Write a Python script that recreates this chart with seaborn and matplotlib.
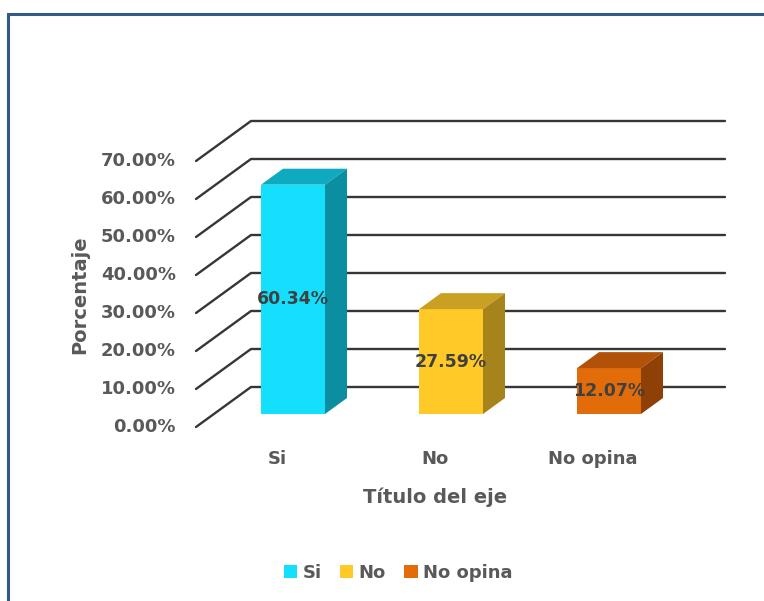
import matplotlib
matplotlib.use("Agg")
import matplotlib.pyplot as plt
from matplotlib.patches import Polygon, Patch, Rectangle
from matplotlib.transforms import offset_copy
import seaborn as sns

categories = ["Si", "No", "No opina"]
values = [60.34, 27.59, 12.07]
value_labels = ["60.34%", "27.59%", "12.07%"]
y_ticks = [0, 10, 20, 30, 40, 50, 60, 70]

front_colors = ["#14E0FE", "#FFCA28", "#E36C0A"]
top_colors = ["#0EABC0", "#C9A021", "#B25208"]
side_colors = ["#0B8E9F", "#A6841B", "#8F4006"]

sns.set_style("white")
plt.rcParams["font.family"] = ["DejaVu Sans"]

W, H = 764, 601
fig = plt.figure(figsize=(W / 100, H / 100), dpi=100)

# outer chart frame (runs off the right and bottom edges)
fig.patches.append(Rectangle((8 / W, -0.1), 1.2, 1.1 - 14 / H, transform=fig.transFigure,
                             fill=False, edgecolor="#2F5A8A", linewidth=2.2))

# axes = plane through the bar fronts
ax = fig.add_axes([214 / W, (H - 414) / H, 474 / W, 266 / H])
ax.set_xlim(-0.5, 2.5)
ax.set_ylim(0, 70)
ax.axis("off")

sns.barplot(x=categories, y=values, hue=categories, palette=front_colors,
            width=0.405, saturation=1, legend=False, ax=ax, zorder=3)

front = offset_copy(ax.transData, fig, x=-18, y=-13, units="dots")
back = offset_copy(ax.transData, fig, x=37, y=27, units="dots")

# 3D walls: diagonal from front to back and horizontal line at the back
for v in y_ticks:
    p0 = front.transform((-0.5, v))
    p1 = back.transform((-0.5, v))
    p2 = back.transform((2.5, v))
    ax.plot([p0[0], p1[0], p2[0]], [p0[1], p1[1], p2[1]], transform=None,
            color="#363636", lw=1.7, zorder=1, clip_on=False)
    ax.text(-0.5, v, f"{v:.2f}%", transform=offset_copy(front, fig, x=-20, y=0, units="dots"),
            ha="right", va="center", fontsize=13, fontweight="bold", color="#595959")

# depth of each bar in data units
o = ax.transData.transform((0, 0))
sx = ax.transData.transform((1, 0))[0] - o[0]
sy = ax.transData.transform((0, 1))[1] - o[1]
ddx, ddy = 22 / sx, 16 / sy

bars = sorted(ax.patches, key=lambda p: p.get_x())
for i, p in enumerate(bars):
    x0, x1 = p.get_x(), p.get_x() + p.get_width()
    y0, y1 = p.get_y(), p.get_y() + p.get_height()
    p.set_edgecolor("none")
    ax.add_patch(Polygon([(x0, y1), (x1, y1), (x1 + ddx, y1 + ddy), (x0 + ddx, y1 + ddy)],
                         facecolor=top_colors[i], edgecolor="none", zorder=3, clip_on=False))
    ax.add_patch(Polygon([(x1, y0), (x1 + ddx, y0 + ddy), (x1 + ddx, y1 + ddy), (x1, y1)],
                         facecolor=side_colors[i], edgecolor="none", zorder=3, clip_on=False))
    ax.text((x0 + x1) / 2, (y0 + y1) / 2, value_labels[i], ha="center", va="center",
            fontsize=12.5, fontweight="bold", color="#404040", zorder=5, clip_on=False)

cat_tr = offset_copy(ax.transData, fig, x=-16, y=-45, units="dots")
for i, c in enumerate(categories):
    ax.text(i, 0, c, transform=cat_tr, ha="center", va="center",
            fontsize=13, fontweight="bold", color="#595959")

fig.text(435 / W, 1 - 497 / H, "Título del eje", ha="center", va="center",
         fontsize=14, fontweight="bold", color="#595959")
fig.text(80 / W, 1 - 295 / H, "Porcentaje", ha="center", va="center", rotation=90,
         fontsize=14, fontweight="bold", color="#595959")

handles = [Patch(facecolor=c, edgecolor="none", label=l) for c, l in zip(front_colors, categories)]
leg = fig.legend(handles=handles, loc="center", bbox_to_anchor=(398 / W, 1 - 573 / H),
                 ncol=3, frameon=False, handlelength=0.75, handleheight=0.75,
                 handletextpad=0.3, columnspacing=1.0,
                 prop={"size": 13, "weight": "bold"})
for t in leg.get_texts():
    t.set_color("#595959")

fig.savefig("out.png", dpi=100)
